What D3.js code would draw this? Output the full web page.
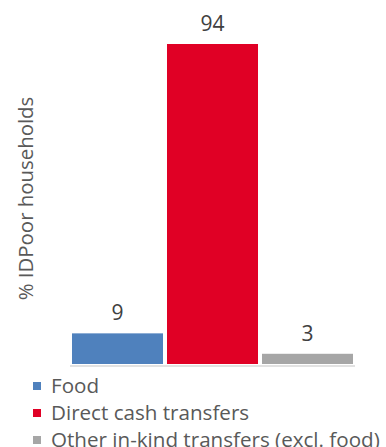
<!DOCTYPE html>
<html>
<head>
<meta charset="utf-8">
<script src="https://cdn.jsdelivr.net/npm/d3@7"></script>
<style>
  html, body { margin: 0; padding: 0; background: #fff; }
  svg { display: block; font-family: "Open Sans", sans-serif; }
</style>
</head>
<body>
<svg id="chart" width="386" height="447"></svg>
<script>
// Share of IDPoor households receiving each type of transfer
const categories = ["Food", "Direct cash transfers", "Other in-kind transfers (excl. food)"];
const values = [9, 94, 3];
const colors = ["#4f81bd", "#e00025", "#a6a6a6"];
const axisTitle = "% IDPoor households";

const svg = d3.select("#chart");

const x = d3.scaleBand()
  .domain(categories)
  .range([70, 355])
  .paddingInner(0.042)
  .paddingOuter(0.021);

const y = d3.scaleLinear()
  .domain([0, 94])
  .range([364, 44]);

// bars
svg.append("g")
  .selectAll("rect")
  .data(categories)
  .join("rect")
  .attr("x", d => x(d))
  .attr("y", (d, i) => y(values[i]))
  .attr("width", x.bandwidth())
  .attr("height", (d, i) => y(0) - y(values[i]))
  .attr("fill", (d, i) => colors[i]);

// baseline
svg.append("line")
  .attr("x1", 70).attr("x2", 355)
  .attr("y1", 366).attr("y2", 366)
  .attr("stroke", "#d9d9d9")
  .attr("stroke-width", 1.5);

// value labels
svg.append("g")
  .selectAll("text")
  .data(categories)
  .join("text")
  .attr("x", d => x(d) + x.bandwidth() / 2)
  .attr("y", (d, i) => y(values[i]) - 13)
  .attr("text-anchor", "middle")
  .attr("font-size", 21)
  .attr("fill", "#404040")
  .text((d, i) => values[i]);

// y axis title
svg.append("text")
  .attr("transform", "translate(33,198.5) rotate(-90)")
  .attr("text-anchor", "middle")
  .attr("font-size", 20.4)
  .attr("fill", "#595959")
  .text(axisTitle);

// legend
const legend = svg.append("g")
  .selectAll("g")
  .data(categories)
  .join("g")
  .attr("transform", (d, i) => `translate(33,${382 + i * 27})`);

legend.append("rect")
  .attr("width", 8).attr("height", 8)
  .attr("fill", (d, i) => colors[i]);

legend.append("text")
  .attr("x", 18)
  .attr("y", 11)
  .attr("font-size", 20.6)
  .attr("fill", "#595959")
  .text(d => d);
</script>
</body>
</html>
